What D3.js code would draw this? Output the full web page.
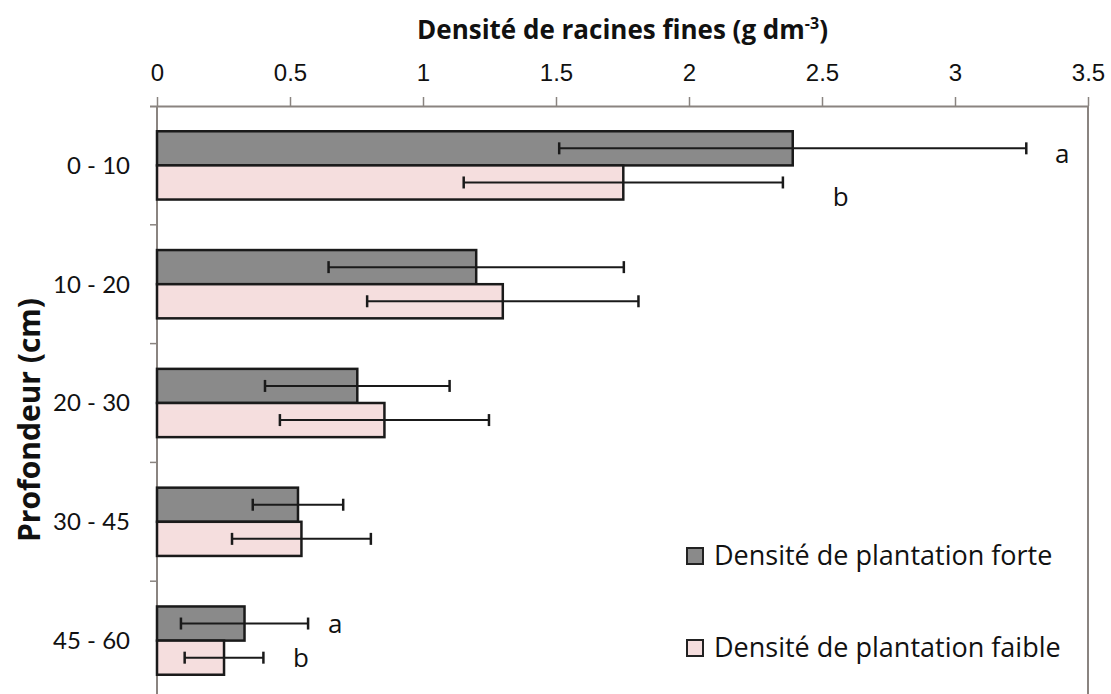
<!DOCTYPE html>
<html>
<head>
<meta charset="utf-8">
<script src="https://cdn.jsdelivr.net/npm/d3@7"></script>
<style>
  html, body { margin: 0; padding: 0; background: #fff; }
  svg { display: block; font-family: Lato, "Open Sans", sans-serif; }
  .os { font-family: "Open Sans", Lato, sans-serif; }
</style>
</head>
<body>
<svg id="chart" width="1111" height="694"></svg>
<script>
// ---- data ----
const categories = ["0 - 10", "10 - 20", "20 - 30", "30 - 45", "45 - 60"];
const seriesNames = ["Densité de plantation forte", "Densité de plantation faible"];
const forteValues = [2.39, 1.20, 0.753, 0.53, 0.329];
const forteErrors = [0.878, 0.555, 0.347, 0.17, 0.239];
const faibleValues = [1.753, 1.30, 0.855, 0.543, 0.252];
const faibleErrors = [0.60, 0.51, 0.393, 0.261, 0.148];
const xTicks = [0, 0.5, 1, 1.5, 2, 2.5, 3, 3.5];
const xTickLabels = ["0", "0.5", "1", "1.5", "2", "2.5", "3", "3.5"];
// significance letters: [category, series index, letter, x position in data units]
const letters = [
  ["0 - 10", 0, "a", 3.376],
  ["0 - 10", 1, "b", 2.54],
  ["45 - 60", 0, "a", 0.643],
  ["45 - 60", 1, "b", 0.511]
];

const colors = ["#8a8a8a", "#f5dede"];
const axisColor = "#8a8480";

const svg = d3.select("#chart");
const margin = { left: 157, right: 23, top: 106 };
const plotRight = 1111 - margin.right;
const plotBottom = 700;

const x = d3.scaleLinear().domain([0, 3.5]).range([margin.left, plotRight]);
const y = d3.scaleBand().domain(categories).range([margin.top, plotBottom]).paddingInner(0).paddingOuter(0);
const inner = d3.scaleBand().domain([0, 1]).range([0, y.bandwidth()]).paddingInner(0).paddingOuter(0.74);

// right border
svg.append("line")
  .attr("x1", plotRight).attr("x2", plotRight)
  .attr("y1", margin.top).attr("y2", 694)
  .attr("stroke", axisColor).attr("stroke-width", 2);

// top axis
const xAxis = d3.axisTop(x).tickValues(xTicks)
  .tickFormat((d, i) => xTickLabels[i]).tickSize(9).tickSizeOuter(0).tickPadding(16);
const gx = svg.append("g").attr("transform", `translate(0,${margin.top})`).call(xAxis);
gx.select(".domain").attr("stroke", axisColor).attr("stroke-width", 2)
  .attr("d", `M${margin.left - 7},0.5H${plotRight}`);
gx.selectAll(".tick line").attr("stroke", axisColor).attr("stroke-width", 1.5);
gx.selectAll(".tick text").attr("fill", "#111").attr("font-size", 24);

// left axis
const boundaries = categories.map(c => y(c)).concat([plotBottom]).slice(1);
const gy = svg.append("g");
gy.append("line")
  .attr("x1", margin.left).attr("x2", margin.left)
  .attr("y1", margin.top).attr("y2", 694)
  .attr("stroke", axisColor).attr("stroke-width", 2);
gy.selectAll("line.tk").data(boundaries).join("line").attr("class", "tk")
  .attr("x1", margin.left - 7).attr("x2", margin.left)
  .attr("y1", d => d).attr("y2", d => d)
  .attr("stroke", axisColor).attr("stroke-width", 1.5);
gy.selectAll("text").data(categories).join("text")
  .attr("x", 130).attr("y", d => y(d) + y.bandwidth() / 2)
  .attr("dy", "0.35em").attr("text-anchor", "end")
  .attr("font-size", 24).attr("fill", "#111").text(d => d);

// bars
const series = [
  { values: forteValues, errors: forteErrors },
  { values: faibleValues, errors: faibleErrors }
];
series.forEach((s, si) => {
  const g = svg.append("g");
  const data = categories.map((c, i) => ({ c, v: s.values[i], e: s.errors[i] }));
  g.selectAll("rect").data(data).join("rect")
    .attr("x", x(0)).attr("y", d => y(d.c) + inner(si))
    .attr("width", d => x(d.v) - x(0)).attr("height", inner.bandwidth())
    .attr("fill", colors[si]).attr("stroke", "#1a1a1a").attr("stroke-width", 2.5);
});
// error bars
series.forEach((s, si) => {
  const g = svg.append("g");
  const data = categories.map((c, i) => ({ c, v: s.values[i], e: s.errors[i] }));
  const cy = d => y(d.c) + inner(si) + inner.bandwidth() / 2;
  g.selectAll("line.eb").data(data).join("line").attr("class", "eb")
    .attr("x1", d => x(d.v - d.e)).attr("x2", d => x(d.v + d.e))
    .attr("y1", cy).attr("y2", cy)
    .attr("stroke", "#1a1a1a").attr("stroke-width", 2);
  ["lo", "hi"].forEach(side => {
    g.selectAll("line.cap" + side).data(data).join("line").attr("class", "cap" + side)
      .attr("x1", d => x(side === "lo" ? d.v - d.e : d.v + d.e))
      .attr("x2", d => x(side === "lo" ? d.v - d.e : d.v + d.e))
      .attr("y1", d => cy(d) - 6).attr("y2", d => cy(d) + 6)
      .attr("stroke", "#1a1a1a").attr("stroke-width", 2.5);
  });
});

// letters (top group sits slightly below its bar centre, bottom group centred)
svg.append("g").selectAll("text").data(letters).join("text")
  .attr("class", "os")
  .attr("x", d => x(d[3]))
  .attr("y", d => y(d[0]) + inner(d[1]) + inner.bandwidth() / 2 + (d[0] === categories[0] ? (d[1] === 1 ? 14 : 6) : 0))
  .attr("dy", "0.35em").attr("font-size", 26).attr("fill", "#111").text(d => d[2]);

// x title
const title = svg.append("text").attr("class", "os").attr("x", (margin.left + plotRight) / 2).attr("y", 39)
  .attr("text-anchor", "middle").attr("font-size", 26).attr("font-weight", "bold").attr("fill", "#111");
title.append("tspan").text("Densité de racines fines (g dm");
title.append("tspan").attr("font-size", 16).attr("dy", -10).text("-3");
title.append("tspan").attr("dy", 10).text(")");

// y title
svg.append("text").attr("class", "os")
  .attr("transform", `translate(40,420) rotate(-90)`)
  .attr("text-anchor", "middle").attr("font-size", 30).attr("font-weight", "bold").attr("fill", "#111")
  .text("Profondeur (cm)");

// legend
const legend = svg.append("g");
const legY = [556, 648];
seriesNames.forEach((n, i) => {
  legend.append("rect").attr("x", 687).attr("y", legY[i] - 8).attr("width", 16).attr("height", 16)
    .attr("fill", colors[i]).attr("stroke", "#222").attr("stroke-width", 2);
  legend.append("text").attr("class", "os").attr("x", 714).attr("y", legY[i]).attr("dy", "0.35em")
    .attr("font-size", 27).attr("fill", "#111").text(n);
});
</script>
</body>
</html>
